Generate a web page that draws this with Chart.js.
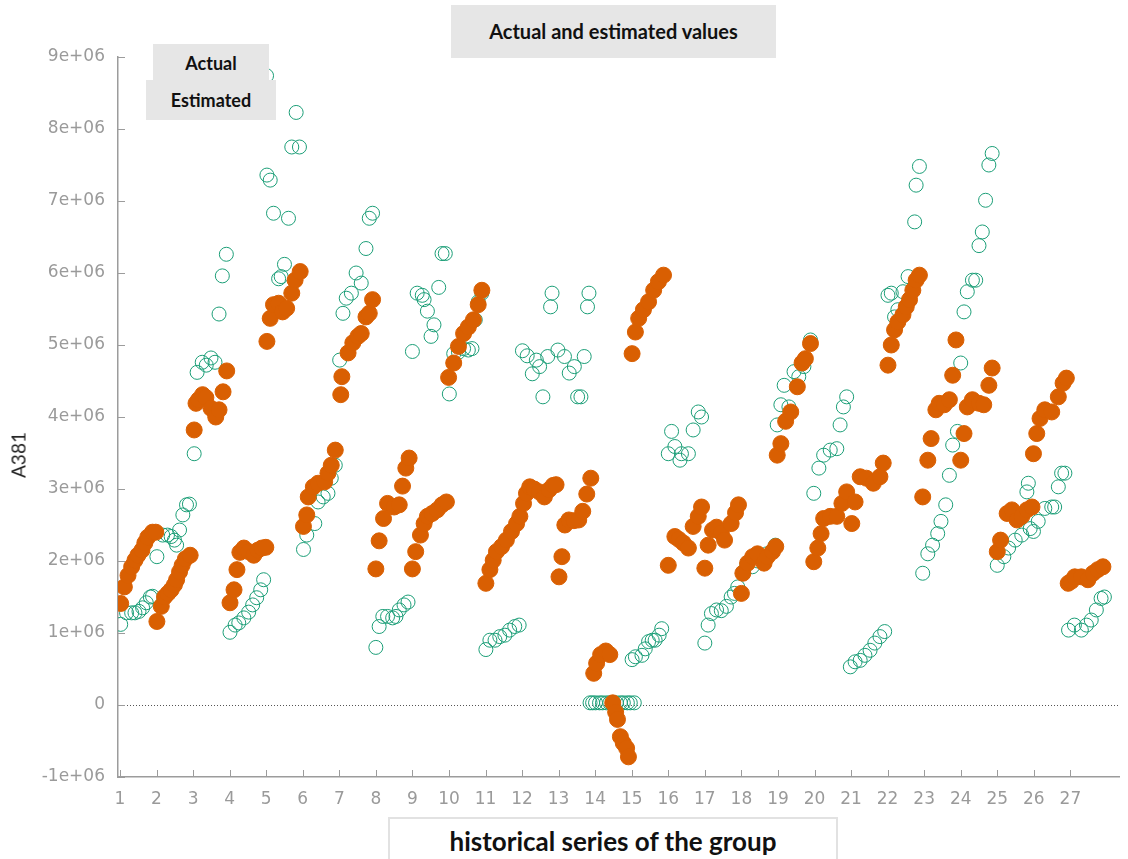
<!DOCTYPE html>
<html>
<head>
<meta charset="utf-8">
<title>Actual and estimated values</title>
<script src="https://cdn.jsdelivr.net/npm/chart.js@4/dist/chart.umd.min.js"></script>
<style>
  html, body { margin: 0; padding: 0; background: #fff; }
  #wrap { position: relative; width: 1128px; height: 859px; overflow: hidden; font-family: Lato, "Open Sans", sans-serif; }
  #cv { position: absolute; left: 0; top: 0; }
  .box { position: absolute; box-sizing: border-box; text-align: center; font-weight: bold; color: #111; }
  .grey { background: #e6e6e6; }
  #title  { left: 451px; top: 5px;  width: 325px; height: 53px; line-height: 53px; font-size: 20px; }
  #lgA    { left: 153px; top: 44px; width: 116px; height: 36px; line-height: 39px; font-size: 18px; }
  #lgE    { left: 146px; top: 80px; width: 130px; height: 40px; line-height: 41px; font-size: 18px; }
  #xtitle { left: 388px; top: 817px; width: 450px; height: 46px; line-height: 44px; font-size: 26px;
            background: #fff; border: 2px solid #e2e2e2; }
  #ytitle { position: absolute; left: 18px; top: 455px; transform: translate(-50%, -50%) rotate(-90deg);
            font-size: 19px; color: #222; white-space: nowrap; }
</style>
</head>
<body>
<div id="wrap">
  <canvas id="cv" width="1128" height="859"></canvas>
  <div id="title" class="box grey">Actual and estimated values</div>
  <div id="lgA" class="box grey">Actual</div>
  <div id="lgE" class="box grey">Estimated</div>
  <div id="xtitle" class="box">historical series of the group</div>
  <div id="ytitle">A381</div>
</div>
<script>
// ---------- Données (valeurs en millions) ----------
const actualX = [
  1.02,1.18,1.32,1.41,1.52,1.62,1.72,1.83,1.89,2.01,
  2.17,2.30,2.40,2.49,2.55,2.63,2.72,2.82,2.90,
  3.03,3.11,3.25,3.36,3.49,3.60,3.71,3.80,3.91,
  4.01,4.15,4.25,4.39,4.52,4.63,4.74,4.85,4.93,
  5.01,5.02,5.11,5.20,5.34,5.41,5.50,5.61,5.70,5.82,5.91,
  6.02,6.11,6.33,6.42,6.56,6.69,6.78,6.89,
  7.01,7.10,7.19,7.33,7.46,7.60,7.73,7.82,7.91,
  8.00,8.09,8.19,8.32,8.46,8.55,8.64,8.77,8.88,
  9.00,9.13,9.27,9.32,9.41,9.51,9.59,9.72,9.81,9.90,
  10.01,10.13,10.26,10.40,10.53,10.63,10.72,10.80,10.90,
  11.01,11.12,11.26,11.39,11.53,11.66,11.80,11.92,
  12.01,12.14,12.28,12.39,12.48,12.57,12.70,12.78,12.82,
  12.98,13.16,13.29,13.43,13.52,13.61,13.70,13.79,13.83,
  13.86,13.93,14.01,14.12,14.20,14.31,14.40,14.50,14.58,14.69,14.77,14.88,14.96,15.07,
  15.01,15.10,15.28,15.37,15.46,15.56,15.64,15.75,15.82,
  16.00,16.09,16.18,16.32,16.36,16.55,16.68,16.82,16.91,
  17.00,17.09,17.18,17.32,17.45,17.59,17.72,17.81,17.90,
  18.05,18.15,18.30,18.45,18.55,18.70,18.85,18.93,
  18.98,19.08,19.17,19.30,19.44,19.57,19.71,19.89,
  19.98,20.12,20.25,20.43,20.61,20.70,20.79,20.88,
  20.98,21.11,21.25,21.38,21.52,21.65,21.79,21.92,
  22.01,22.10,22.19,22.28,22.42,22.56,22.74,22.78,22.87,
  22.96,23.10,23.23,23.37,23.46,23.59,23.69,23.78,23.91,
  24.00,24.09,24.18,24.32,24.41,24.50,24.59,24.68,24.77,24.86,
  25.00,25.18,25.31,25.49,25.67,25.81,25.85,25.90,25.99,
  26.12,26.30,26.49,26.57,26.67,26.76,26.85,
  26.95,27.11,27.30,27.44,27.57,27.71,27.84,27.93
];
const actualY = [
  1.12,1.28,1.28,1.28,1.30,1.35,1.42,1.50,1.51,2.06,
  2.36,2.36,2.34,2.29,2.22,2.43,2.64,2.78,2.79,
  3.49,4.62,4.76,4.72,4.82,4.76,5.43,5.96,6.26,
  1.01,1.11,1.14,1.21,1.29,1.39,1.49,1.60,1.74,
  8.74,7.36,7.29,6.83,5.92,5.95,6.12,6.76,7.75,8.23,7.75,
  2.16,2.36,2.52,2.82,2.89,2.94,3.15,3.33,
  4.79,5.44,5.65,5.72,6.00,5.86,6.34,6.76,6.83,
  0.80,1.09,1.23,1.23,1.21,1.23,1.32,1.39,1.43,
  4.91,5.72,5.69,5.63,5.47,5.12,5.28,5.80,6.27,6.27,
  4.32,4.88,4.90,4.95,4.93,4.95,5.35,5.60,5.72,
  0.77,0.90,0.90,0.95,0.97,1.04,1.09,1.11,
  4.92,4.85,4.60,4.79,4.70,4.28,4.84,5.53,5.72,
  4.93,4.84,4.61,4.70,4.28,4.28,4.84,5.53,5.72,
  0.03,0.03,0.03,0.03,0.03,0.03,0.03,0.03,0.03,0.03,0.03,0.03,0.03,0.03,
  0.63,0.67,0.69,0.78,0.88,0.90,0.90,0.97,1.06,
  3.49,3.80,3.59,3.40,3.49,3.49,3.82,4.07,4.00,
  0.86,1.11,1.27,1.32,1.31,1.37,1.50,1.55,1.64,
  1.85,1.95,1.92,2.00,2.05,2.10,2.15,2.22,
  3.89,4.17,4.44,4.14,4.63,4.56,4.70,5.07,
  2.94,3.29,3.47,3.54,3.56,3.89,4.14,4.28,
  0.53,0.60,0.62,0.69,0.76,0.86,0.95,1.02,
  5.69,5.72,5.39,5.49,5.74,5.95,6.71,7.22,7.48,
  1.83,2.10,2.22,2.38,2.55,2.78,3.19,3.61,3.80,
  4.75,5.46,5.74,5.90,5.90,6.38,6.57,7.01,7.50,7.66,
  1.94,2.06,2.18,2.29,2.36,2.96,3.08,2.45,2.41,
  2.55,2.73,2.75,2.75,3.03,3.22,3.22,
  1.04,1.11,1.04,1.11,1.18,1.32,1.48,1.50
];
const estimatedX = [
  1.02,1.12,1.22,1.32,1.41,1.49,1.60,1.68,1.76,1.89,1.98,
  2.01,2.13,2.22,2.31,2.40,2.49,2.55,2.63,2.70,2.79,2.92,
  3.03,3.08,3.15,3.26,3.35,3.49,3.62,3.71,3.82,3.92,
  4.01,4.12,4.20,4.28,4.39,4.52,4.66,4.77,4.88,4.99,
  5.02,5.11,5.20,5.34,5.45,5.56,5.70,5.79,5.93,
  6.02,6.11,6.15,6.29,6.42,6.60,6.69,6.78,6.89,
  7.04,7.07,7.24,7.37,7.51,7.60,7.73,7.82,7.91,
  8.00,8.09,8.21,8.32,8.50,8.64,8.73,8.82,8.91,
  9.00,9.09,9.22,9.32,9.41,9.54,9.68,9.81,9.93,
  9.99,10.13,10.26,10.40,10.53,10.67,10.80,10.90,
  11.01,11.12,11.21,11.30,11.44,11.57,11.71,11.85,11.94,
  12.04,12.12,12.21,12.33,12.47,12.61,12.74,12.85,12.93,
  13.01,13.09,13.17,13.28,13.42,13.55,13.66,13.77,13.88,
  13.96,14.04,14.15,14.29,14.40,14.48,14.56,14.61,14.69,14.77,14.86,14.91,
  15.01,15.10,15.19,15.32,15.46,15.60,15.73,15.87,
  16.00,16.18,16.29,16.41,16.55,16.68,16.82,16.91,
  17.00,17.09,17.21,17.32,17.45,17.54,17.72,17.84,17.92,
  18.00,18.04,18.17,18.31,18.44,18.62,18.71,18.85,18.94,
  18.98,19.08,19.21,19.35,19.53,19.66,19.75,19.89,
  19.98,20.09,20.18,20.25,20.43,20.61,20.75,20.88,
  21.02,21.11,21.25,21.42,21.61,21.79,21.88,
  22.01,22.10,22.19,22.28,22.42,22.51,22.60,22.69,22.78,22.87,
  22.96,23.10,23.19,23.32,23.41,23.55,23.69,23.78,23.87,
  24.00,24.09,24.18,24.32,24.50,24.63,24.77,24.86,
  25.00,25.09,25.27,25.40,25.54,25.67,25.81,25.95,
  25.99,26.08,26.17,26.30,26.49,26.67,26.80,26.89,
  26.94,27.03,27.12,27.30,27.48,27.62,27.75,27.89
];
const estimatedY = [
  1.41,1.64,1.80,1.92,2.01,2.08,2.15,2.25,2.33,2.40,2.40,
  1.16,1.37,1.50,1.55,1.60,1.67,1.74,1.85,1.94,2.03,2.08,
  3.82,4.19,4.24,4.31,4.27,4.12,4.00,4.10,4.35,4.64,
  1.42,1.60,1.88,2.12,2.18,2.13,2.08,2.15,2.18,2.19,
  5.05,5.37,5.56,5.58,5.46,5.51,5.72,5.90,6.02,
  2.48,2.64,2.89,3.03,3.08,3.10,3.22,3.33,3.54,
  4.31,4.56,4.89,5.03,5.12,5.16,5.39,5.44,5.63,
  1.89,2.28,2.59,2.80,2.75,2.78,3.04,3.29,3.43,
  1.89,2.13,2.36,2.52,2.62,2.66,2.71,2.78,2.82,
  4.55,4.75,4.98,5.16,5.25,5.35,5.56,5.76,
  1.69,1.88,2.01,2.13,2.20,2.29,2.41,2.52,2.62,
  2.80,2.94,3.03,3.00,2.96,2.89,2.99,3.05,3.06,
  1.78,2.06,2.50,2.57,2.56,2.57,2.69,2.93,3.15,
  0.44,0.58,0.70,0.75,0.70,0.03,-0.10,-0.20,-0.44,-0.53,-0.60,-0.72,
  4.88,5.18,5.37,5.49,5.60,5.76,5.88,5.97,
  1.94,2.34,2.30,2.25,2.18,2.48,2.62,2.75,
  1.90,2.22,2.43,2.47,2.39,2.29,2.52,2.67,2.78,
  1.55,1.83,1.97,2.06,2.10,1.97,2.06,2.13,2.20,
  3.47,3.63,3.94,4.07,4.42,4.75,4.81,5.02,
  1.99,2.18,2.38,2.59,2.62,2.62,2.80,2.96,
  2.52,2.82,3.17,3.15,3.08,3.17,3.36,
  4.72,5.00,5.21,5.32,5.42,5.53,5.63,5.76,5.90,5.97,
  2.89,3.40,3.70,4.10,4.19,4.17,4.24,4.58,5.07,
  3.40,3.77,4.14,4.24,4.19,4.17,4.44,4.68,
  2.13,2.29,2.66,2.71,2.57,2.62,2.71,2.75,
  3.49,3.77,3.98,4.10,4.07,4.28,4.47,4.54,
  1.69,1.72,1.78,1.78,1.74,1.83,1.88,1.92
];
const xTickValues = [1,2,3,4,5,6,7,8,9,10,11,12,13,14,15,16,17,18,19,20,21,22,23,24,25,26,27];
const yMin = -1e6, yMax = 9e6, yStep = 1e6;

// ---------- Helpers ----------
const toPoints = (xs, ys) => xs.map((x, i) => ({ x, y: ys[i] * 1e6 }));

// 9000000 -> "9e+06"
function fmtSci(v){
  if (v === 0) return '0';
  const e = Math.floor(Math.log10(Math.abs(v)) + 1e-9);
  const m = Math.round(v / Math.pow(10, e));
  return `${m}e${e < 0 ? '-' : '+'}${String(Math.abs(e)).padStart(2, '0')}`;
}

const AXIS_GREY = '#9c9c9c';

// Ligne zéro pointillée + petites graduations vers l'intérieur
const axisExtras = {
  id: 'axisExtras',
  beforeDatasetsDraw(chart){
    const { ctx, chartArea: a, scales: { y } } = chart;
    const y0 = Math.round(y.getPixelForValue(0)) + 0.5;
    ctx.save();
    ctx.strokeStyle = '#555';
    ctx.lineWidth = 1;
    ctx.setLineDash([1, 2]);
    ctx.beginPath(); ctx.moveTo(a.left, y0); ctx.lineTo(a.right, y0); ctx.stroke();
    ctx.restore();
  },
  afterDraw(chart){
    const { ctx, chartArea: a, scales: { x, y } } = chart;
    ctx.save();
    ctx.strokeStyle = AXIS_GREY;
    ctx.lineWidth = 1;
    ctx.beginPath();
    for (const v of xTickValues) {
      const px = Math.round(x.getPixelForValue(v)) + 0.5;
      ctx.moveTo(px, a.bottom); ctx.lineTo(px, a.bottom - 7);
    }
    for (let v = yMin; v <= yMax; v += yStep) {
      const py = Math.round(y.getPixelForValue(v)) + 0.5;
      ctx.moveTo(a.left, py); ctx.lineTo(a.left + 7, py);
    }
    ctx.stroke();
    ctx.restore();
  }
};

const tickFont = { family: '"DejaVu Sans", sans-serif', size: 17 };

new Chart(document.getElementById('cv').getContext('2d'), {
  type: 'scatter',
  data: {
    datasets: [
      { label: 'Actual', data: toPoints(actualX, actualY), order: 1,
        pointRadius: 7, pointHoverRadius: 7, borderWidth: 1,
        borderColor: '#1b9e77', backgroundColor: 'rgba(0,0,0,0)' },
      { label: 'Estimated', data: toPoints(estimatedX, estimatedY), order: 0,
        pointRadius: 8, pointHoverRadius: 8, borderWidth: 1,
        borderColor: '#d95f02', backgroundColor: '#d95f02' }
    ]
  },
  options: {
    responsive: false, animation: false, devicePixelRatio: 1,
    layout: { padding: { top: 57, right: 0, left: 0, bottom: 0 } },
    plugins: { legend: { display: false }, tooltip: { enabled: false }, title: { display: false } },
    scales: {
      x: {
        type: 'linear', min: 0.946, max: 28.33,
        afterBuildTicks: s => { s.ticks = xTickValues.map(v => ({ value: v })); },
        afterFit: s => { s.height = 82; },
        grid: { display: true, drawOnChartArea: false, drawTicks: false },
        border: { display: true, color: AXIS_GREY, width: 1.5 },
        ticks: { color: '#9a9a9a', font: tickFont, padding: 12, maxRotation: 0, autoSkip: false,
                 callback: v => String(v) }
      },
      y: {
        type: 'linear', min: yMin, max: yMax,
        ticks: { stepSize: yStep, color: '#9a9a9a', font: tickFont, padding: 13, callback: v => fmtSci(v) },
        afterFit: s => { s.width = 118; },
        grid: { display: true, drawOnChartArea: false, drawTicks: false },
        border: { display: true, color: AXIS_GREY, width: 1.5 }
      }
    }
  },
  plugins: [axisExtras]
});
</script>
</body>
</html>
